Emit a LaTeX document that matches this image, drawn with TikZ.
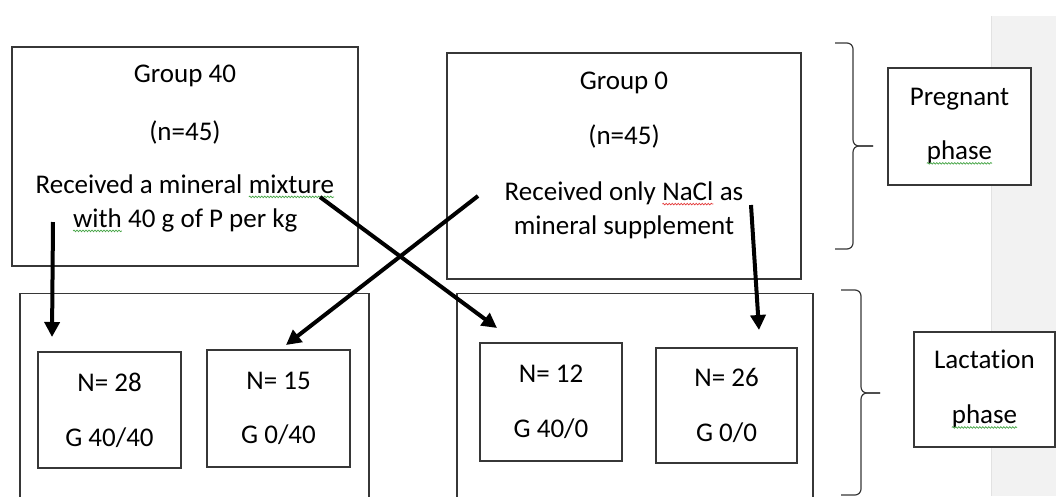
\documentclass[tikz,border=0pt]{standalone}
\usepackage{fontspec}
\setmainfont{Carlito}[Ligatures=NoCommon]
\usetikzlibrary{arrows.meta,decorations.pathmorphing}
\definecolor{frameGray}{RGB}{55,55,55}
\definecolor{paneGray}{RGB}{242,242,242}
\definecolor{paneEdge}{RGB}{226,226,226}
\definecolor{spellRed}{RGB}{228,60,60}
\definecolor{grammarGreen}{RGB}{70,165,70}
\newcommand{\Squiggle}[2]{\tikz[baseline=(w.base)]{\node[draw=none,fill=none,inner sep=0pt,outer sep=0pt,minimum width=0pt,minimum height=0pt] (w) {#2};
  \draw[#1,line width=0.7pt,decorate,decoration={snake,amplitude=0.8pt,segment length=3pt}] ([yshift=-3.5pt]w.base west) -- ([yshift=-3.5pt]w.base east);}}

\begin{document}
\begin{tikzpicture}[x=1pt,y=-1pt,
  boxframe/.style={draw=frameGray,fill=white,line width=1.2pt,inner sep=0pt},
  txt/.style={align=center,inner sep=0pt,font=\fontsize{27}{34}\selectfont},
  bracepath/.style={draw=frameGray,line width=1.2pt,rounded corners=6pt},
  arr/.style={line width=4pt,-{Triangle[width=15pt,length=15pt]}}]
\useasboundingbox (0,0) rectangle (1056,496);
\clip (0,0) rectangle (1056,496);
% grey side pane
\fill[paneGray] (991,16) rectangle (1056,496);
\draw[paneEdge,line width=1pt] (991.5,16) -- (991.5,496);

% pregnant phase groups
\node[boxframe,minimum width=346pt,minimum height=219pt] (grp40) at (185,156.5) {};
\node[txt] (grp40txt) at (185,148.5) {Group 40\\[24pt](n=45)\\[19pt]Received a mineral \Squiggle{grammarGreen}{mixture}\\\Squiggle{grammarGreen}{with} 40 g of P per kg};
\node[boxframe,minimum width=354pt,minimum height=226pt] (grp0) at (624,166) {};
\node[txt] (grp0txt) at (624,155.5) {Group 0\\[21pt](n=45)\\[22pt]Received only \Squiggle{spellRed}{NaCl} as\\mineral supplement};
\node[boxframe,txt,minimum width=143pt,minimum height=117pt] (preg) at (959.5,126.5) {Pregnant\\[20pt]\Squiggle{grammarGreen}{phase}};

% lactation phase groups
\node[boxframe,minimum width=349pt,minimum height=240pt,anchor=north] (lowL) at (194.5,293) {};
\node[boxframe,minimum width=356pt,minimum height=240pt,anchor=north] (lowR) at (635,293) {};
\node[boxframe,txt,minimum width=143pt,minimum height=116pt] (n28) at (109.5,410) {N= 28\\[21pt]G 40/40};
\node[boxframe,txt,minimum width=143pt,minimum height=117pt] (n15) at (278.5,408.5) {N= 15\\[20pt]G 0/40};
\node[boxframe,txt,minimum width=142pt,minimum height=118pt] (n12) at (551,402) {N= 12\\[21pt]G 40/0};
\node[boxframe,txt,minimum width=141pt,minimum height=115pt] (n26) at (726.5,405.5) {N= 26\\[21pt]G 0/0};
\node[boxframe,txt,minimum width=141pt,minimum height=115pt] (lact) at (984.5,389.5) {Lactation\\[21pt]\Squiggle{grammarGreen}{phase}};

% braces
\draw[bracepath] (835,43) -- (853,43) -- (853,146) -- (873,146);
\draw[bracepath] (873,146) -- (853,146) -- (853,249) -- (835,249);
\draw[bracepath] (841,290) -- (861,290) -- (861,393) -- (880,393);
\draw[bracepath] (880,393) -- (861,393) -- (861,495) -- (841,495);

% allocation arrows
\coordinate (a40s) at (53,222);
\coordinate (a40e) at (52,337);
\coordinate (x40s) at (320,197);
\coordinate (x40e) at (497,328);
\coordinate (x0s) at (478,196);
\coordinate (x0e) at (286,345);
\coordinate (a0s) at (751,205);
\coordinate (a0e) at (759,330);
\draw[arr] (a40s) -- (a40e);
\draw[arr] (x40s) -- (x40e);
\draw[arr] (x0s) -- (x0e);
\draw[arr] (a0s) -- (a0e);
\end{tikzpicture}
\end{document}
